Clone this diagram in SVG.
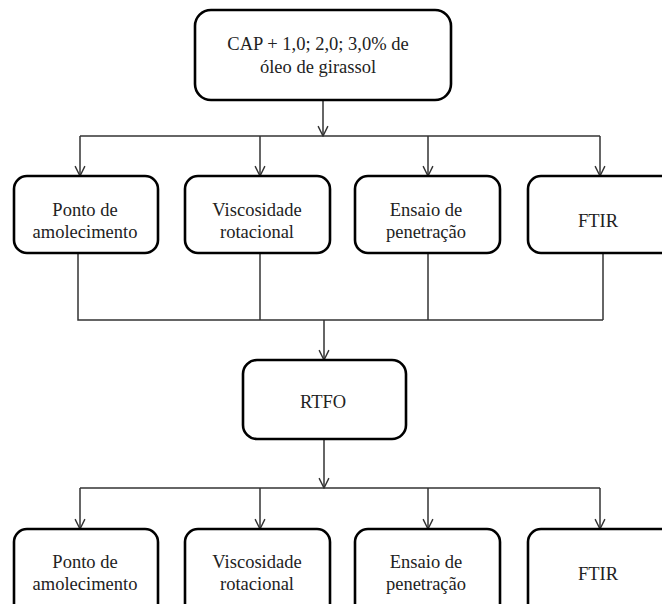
<svg xmlns="http://www.w3.org/2000/svg" width="662" height="604" viewBox="0 0 662 604">
<defs>
<marker id="arr" markerWidth="12" markerHeight="12" refX="10" refY="5" orient="auto" markerUnits="userSpaceOnUse" viewBox="0 0 11 10">
<path d="M1,0.5 L10,5 L1,9.5" fill="none" stroke="#333" stroke-width="1.3"/>
</marker>
</defs>
<style>
.box{fill:#fff;stroke:#000;stroke-width:2.6}
.t{font-family:'Liberation Serif','DejaVu Serif','Noto Serif',serif;font-size:18.5px;fill:#222;text-anchor:middle}
.c{fill:none;stroke:#333;stroke-width:1.5}
</style>
<rect width="662" height="604" fill="#fff"/>
<g id="connectors">
<path class="c" d="M323,100 V136" marker-end="url(#arr)"/>
<path class="c" d="M80,136 H600"/>
<path class="c" d="M80,136 V176" marker-end="url(#arr)"/>
<path class="c" d="M260,136 V176" marker-end="url(#arr)"/>
<path class="c" d="M428,136 V176" marker-end="url(#arr)"/>
<path class="c" d="M600,136 V176" marker-end="url(#arr)"/>
<path class="c" d="M78,253 V320 H603"/>
<path class="c" d="M260,253 V320"/>
<path class="c" d="M428,253 V320"/>
<path class="c" d="M603,253 V320"/>
<path class="c" d="M324,320 V360" marker-end="url(#arr)"/>
<path class="c" d="M324,439 V488" marker-end="url(#arr)"/>
<path class="c" d="M80,488 H600"/>
<path class="c" d="M80,488 V529" marker-end="url(#arr)"/>
<path class="c" d="M260,488 V529" marker-end="url(#arr)"/>
<path class="c" d="M428,488 V529" marker-end="url(#arr)"/>
<path class="c" d="M600,488 V529" marker-end="url(#arr)"/>
</g>
<g id="n0">
<rect class="box" x="195" y="10" width="256" height="90" rx="16"/>
<text class="t" x="318" y="50">CAP + 1,0; 2,0; 3,0% de</text>
<text class="t" x="318" y="73">óleo de girassol</text>
</g>
<g id="n1">
<rect class="box" x="14" y="176" width="144" height="77" rx="13"/>
<text class="t" x="85" y="216">Ponto de</text>
<text class="t" x="85" y="238">amolecimento</text>
</g>
<g id="n2">
<rect class="box" x="185" y="176" width="145" height="77" rx="13"/>
<text class="t" x="257" y="216">Viscosidade</text>
<text class="t" x="257" y="238">rotacional</text>
</g>
<g id="n3">
<rect class="box" x="355" y="176" width="145" height="77" rx="13"/>
<text class="t" x="426" y="216">Ensaio de</text>
<text class="t" x="426" y="238">penetração</text>
</g>
<g id="n4">
<rect class="box" x="528" y="176" width="146" height="77" rx="13"/>
<text class="t" x="598" y="227">FTIR</text>
</g>
<g id="n5">
<rect class="box" x="243" y="360" width="163" height="79" rx="14"/>
<text class="t" x="323" y="408">RTFO</text>
</g>
<g id="n6">
<rect class="box" x="14" y="529" width="144" height="90" rx="13"/>
<text class="t" x="85" y="568">Ponto de</text>
<text class="t" x="85" y="590">amolecimento</text>
</g>
<g id="n7">
<rect class="box" x="185" y="529" width="145" height="90" rx="13"/>
<text class="t" x="257" y="568">Viscosidade</text>
<text class="t" x="257" y="590">rotacional</text>
</g>
<g id="n8">
<rect class="box" x="355" y="529" width="145" height="90" rx="13"/>
<text class="t" x="426" y="568">Ensaio de</text>
<text class="t" x="426" y="590">penetração</text>
</g>
<g id="n9">
<rect class="box" x="528" y="529" width="146" height="90" rx="13"/>
<text class="t" x="598" y="580">FTIR</text>
</g>
</svg>
